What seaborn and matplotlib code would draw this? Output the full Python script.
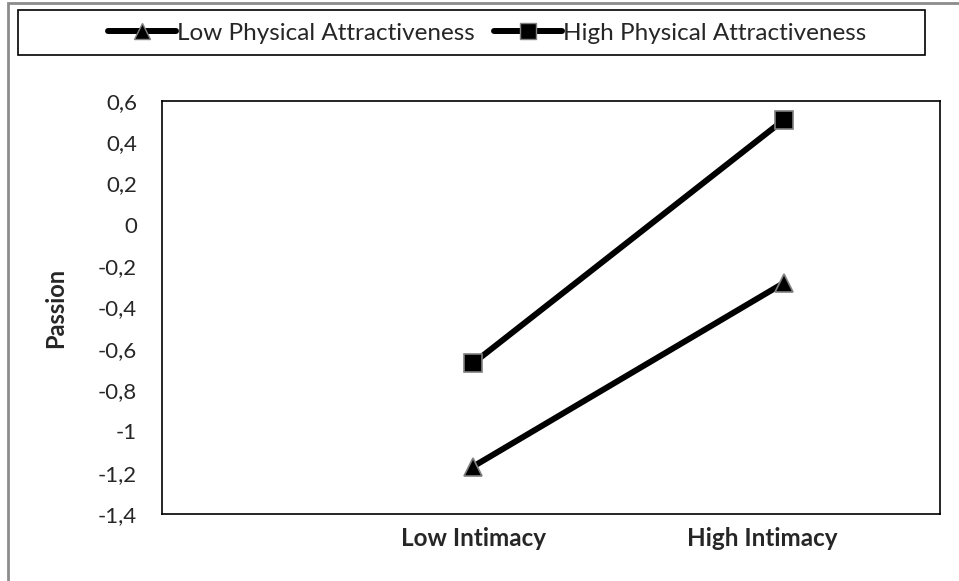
import numpy as np
import pandas as pd
import matplotlib
matplotlib.use("Agg")
import matplotlib.pyplot as plt
from matplotlib.patches import Rectangle
from matplotlib.lines import Line2D
import seaborn as sns

# data
categories = ["Low Intimacy", "High Intimacy"]
low_pa = [-1.17, -0.28]
high_pa = [-0.67, 0.51]
series_names = ["Low Physical Attractiveness", "High Physical Attractiveness"]
y_ticks = [-1.4, -1.2, -1.0, -0.8, -0.6, -0.4, -0.2, 0.0, 0.2, 0.4, 0.6]

sns.set_style("white")
plt.rcParams["font.family"] = ["Lato", "DejaVu Sans"]

df = pd.DataFrame({
    "pos": [1, 2, 1, 2],
    "Passion": low_pa + high_pa,
    "group": [series_names[0]] * 2 + [series_names[1]] * 2,
})

fig = plt.figure(figsize=(9.59, 5.81), dpi=100)
ax = fig.add_axes([0.169, 0.1153, 0.811, 0.711])

sns.lineplot(data=df, x="pos", y="Passion", hue="group", style="group",
             markers={series_names[0]: "^", series_names[1]: "s"},
             dashes=False, palette=["black", "black"], linewidth=4.3,
             markersize=13, markeredgecolor="#808080", markeredgewidth=1.2,
             legend=False, ax=ax)

ax.set_xlim(0, 2.5)
ax.set_ylim(-1.4, 0.6)
ax.set_yticks(y_ticks)
ax.set_yticklabels([("%g" % v).replace(".", ",") for v in y_ticks], fontsize=16)
ax.set_xticks([1, 1.93])
ax.set_xticklabels(categories, fontsize=17.5, fontweight="bold")
ax.tick_params(axis="both", length=0)
ax.tick_params(axis="y", pad=18)
ax.tick_params(axis="x", pad=9)
ax.set_xlabel("")
ax.set_ylabel("Passion", fontsize=17, fontweight="bold", labelpad=22)
for s in ax.spines.values():
    s.set_color("black")
    s.set_linewidth(1.2)

# outer chart border
fig.patches.append(Rectangle((8 / 959, -0.1), 1.2, 1.1 - 3 / 581, transform=fig.transFigure,
                             fill=False, edgecolor="#8c8c8c", linewidth=2))
# legend box
fig.patches.append(Rectangle((18 / 959, 1 - 55 / 581), 907 / 959, 45 / 581,
                             transform=fig.transFigure, fill=False,
                             edgecolor="black", linewidth=1.2))
handles = [
    Line2D([], [], color="black", linewidth=4.3, marker="^", markersize=11,
           markeredgecolor="#808080"),
    Line2D([], [], color="black", linewidth=4.3, marker="s", markersize=11,
           markeredgecolor="#808080"),
]
fig.legend(handles, series_names, loc="center", bbox_to_anchor=(487 / 959, 1 - 33 / 581),
           ncol=2, frameon=False, fontsize=17.5, handlelength=2.8, handletextpad=0.05,
           columnspacing=0.8)

fig.savefig("out.png", dpi=100)
